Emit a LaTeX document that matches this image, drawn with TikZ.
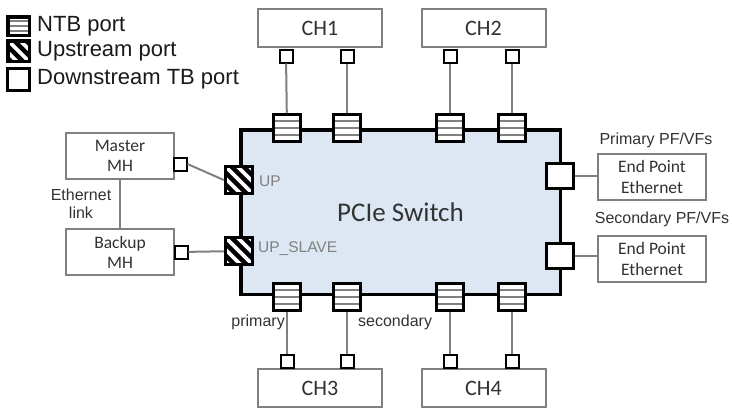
\documentclass[tikz,border=0pt]{standalone}
\usepackage{fontspec}
\setmainfont{Liberation Sans}
\newfontfamily\boxfont{Carlito}
\usetikzlibrary{calc}

\definecolor{switchblue}{RGB}{221,231,243}
\definecolor{linegray}{RGB}{128,128,128}
\definecolor{textgray}{RGB}{50,50,50}

\tikzset{
  hostbox/.style={draw=linegray, line width=2pt, fill=white, minimum width=124pt,
    minimum height=38pt, inner sep=0pt, text=textgray,
    font=\boxfont\fontsize{22}{24}\selectfont},
  mhbox/.style={hostbox, minimum width=108pt, minimum height=46pt, align=center,
    font=\boxfont\fontsize{17.5}{20}\selectfont},
  epbox/.style={mhbox, font=\boxfont\fontsize{17.5}{21}\selectfont},
  switchbox/.style={draw=black, line width=3.5pt, fill=switchblue, minimum width=319.5pt,
    minimum height=164.5pt, text=black!80, font=\boxfont\fontsize{27}{30}\selectfont},
  link/.style={draw=linegray, line width=2pt},
  ntb/.style={draw=black, line width=3.5pt, fill=white, minimum size=27pt, inner sep=0pt,
    path picture={
      \foreach \f in {0.25,0.5,0.75}
        \draw[linegray, line width=1.9pt]
          ($(path picture bounding box.north west)!\f!(path picture bounding box.south west)$) --
          ($(path picture bounding box.north east)!\f!(path picture bounding box.south east)$);
    }},
  upport/.style={draw=black, line width=3.5pt, fill=black, minimum size=27pt, inner sep=0pt,
    path picture={
      \foreach \d in {-36,-24,...,36}
        \draw[white, line width=3.8pt] ([xshift=\d pt]path picture bounding box.center)
          ++(-20pt,20pt) -- ++(40pt,-40pt);
    }},
  dsport/.style={draw=black, line width=2pt, fill=white, minimum size=13pt, inner sep=0pt},
  epport/.style={draw=black, line width=3.5pt, fill=white, minimum width=27pt,
    minimum height=25pt, inner sep=0pt},
  legendtext/.style={anchor=west, inner sep=0pt, text=black!90, font=\fontsize{22}{24}\selectfont},
  graytext/.style={inner sep=0pt, text=linegray, font=\fontsize{15.5}{18}\selectfont},
  labeltext/.style={inner sep=0pt, text=textgray, font=\fontsize{16}{18}\selectfont, align=center}
}

\begin{document}
\begin{tikzpicture}[x=1pt,y=-1pt]
  \useasboundingbox (0,0) rectangle (732,410);

  % legend
  \node[ntb, minimum width=21.5pt, minimum height=18.5pt] (kntb) at (18.5,26) {};
  \node[upport, minimum width=21.5pt, minimum height=20.5pt] (kup) at (18.5,51) {};
  \node[epport, line width=3pt, minimum width=22pt, minimum height=22pt] (kds) at (18.5,79.5) {};
  \node[legendtext] (tntb) at (37,26) {NTB port};
  \node[legendtext] (tup) at (37,51) {Upstream port};
  \node[legendtext] (tds) at (37,79.5) {Downstream TB port};

  % switch and its ports
  \node[switchbox] (sw) at (400.5,212) {PCIe Switch};
  \node[ntb] (n1) at (287,128) {};
  \node[ntb] (n2) at (347,128) {};
  \node[ntb] (n3) at (450,128) {};
  \node[ntb] (n4) at (512,128) {};
  \node[ntb] (n5) at (287,297) {};
  \node[ntb] (n6) at (347,297) {};
  \node[ntb] (n7) at (450,297) {};
  \node[ntb] (n8) at (512,297) {};
  \node[upport] (up) at (239,180) {};
  \node[upport] (ups) at (239,251) {};
  \node[epport] (e1) at (560,176) {};
  \node[epport] (e2) at (560,256) {};
  \node[graytext, anchor=west] (lup) at (259,181) {UP};
  \node[graytext, anchor=west] (lups) at (258,249) {UP\_SLAVE};

  % chassis
  \node[hostbox] (ch1) at (320,28) {CH1};
  \node[hostbox] (ch2) at (483.5,28) {CH2};
  \node[hostbox] (ch3) at (320,388) {CH3};
  \node[hostbox] (ch4) at (483.5,388) {CH4};
  \node[dsport] (d1) at (286,56) {};
  \node[dsport] (d2) at (347,56) {};
  \node[dsport] (d3) at (450,56) {};
  \node[dsport] (d4) at (512,56) {};
  \node[dsport] (d5) at (287,361) {};
  \node[dsport] (d6) at (347,361) {};
  \node[dsport] (d7) at (450,361) {};
  \node[dsport] (d8) at (512,361) {};
  \draw[link] (d1) -- (n1);
  \draw[link] (d2) -- (n2);
  \draw[link] (d3) -- (n3);
  \draw[link] (d4) -- (n4);
  \draw[link] (n5) -- (d5);
  \draw[link] (n6) -- (d6);
  \draw[link] (n7) -- (d7);
  \draw[link] (n8) -- (d8);
  \node[labeltext, anchor=east] (lpri) at (285,322) {primary};
  \node[labeltext, anchor=west] (lsec) at (358,322) {secondary};

  % management hosts
  \node[mhbox] (mmh) at (120,156) {Master\\MH};
  \node[mhbox] (bmh) at (120,252) {Backup\\MH};
  \node[dsport] (mp) at (180,164) {};
  \node[dsport] (bp) at (181,252) {};
  \draw[link] (mp.east) -- (up.west);
  \draw[link] (bp) -- (ups);
  \draw[link] (mmh) -- (bmh);
  \node[labeltext] (leth) at (81,204) {Ethernet\\link};

  % end points
  \node[epbox] (ep1) at (652,177) {End Point\\Ethernet};
  \node[epbox] (ep2) at (652,259) {End Point\\Ethernet};
  \draw[link] (e1) -- (ep1.west |- e1);
  \draw[link] (e2) -- (ep2.west |- e2);
  \node[labeltext] (lep1) at (656,140) {Primary PF/VFs};
  \node[labeltext] (lep2) at (662,219) {Secondary PF/VFs};
\end{tikzpicture}
\end{document}
